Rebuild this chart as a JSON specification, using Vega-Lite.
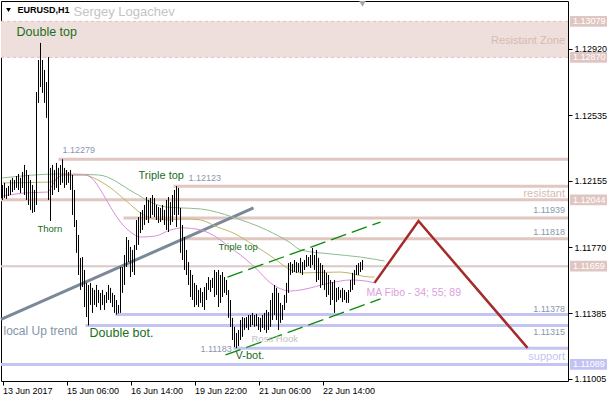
{
"$schema":"https://vega.github.io/schema/vega-lite/v6.json",
"width":567,"height":380,
"autosize":{"type":"none"},
"padding":{"left":1,"top":1,"right":42,"bottom":19},
"background":"white",
"config":{"view":{"stroke":"black","strokeWidth":1},"font":"Liberation Sans"},
"datasets":{
"bars":[
{"i":0,"h":1.12130,"l":1.12043},{"i":1,"h":1.12142,"l":1.12055},{"i":2,"h":1.12113,"l":1.12049},{"i":3,"h":1.12124,"l":1.12066},{"i":4,"h":1.12159,"l":1.12072},{"i":5,"h":1.12171,"l":1.12089},{"i":6,"h":1.12159,"l":1.12101},{"i":7,"h":1.12182,"l":1.12113},{"i":8,"h":1.12194,"l":1.12101},{"i":9,"h":1.12171,"l":1.12084},
{"i":10,"h":1.12205,"l":1.12113},{"i":11,"h":1.12246,"l":1.12072},{"i":12,"h":1.12217,"l":1.12043},{"i":13,"h":1.12188,"l":1.12014},{"i":14,"h":1.12159,"l":1.11985},{"i":15,"h":1.12130,"l":1.11968},{"i":16,"h":1.12101,"l":1.11973},{"i":17,"h":1.12669,"l":1.12014},{"i":18,"h":1.12855,"l":1.12606},{"i":19,"h":1.12954,"l":1.12698},
{"i":20,"h":1.12855,"l":1.12664},{"i":21,"h":1.12797,"l":1.12606},{"i":22,"h":1.12727,"l":1.12519},{"i":23,"h":1.12872,"l":1.12043},{"i":24,"h":1.12229,"l":1.11921},{"i":25,"h":1.12246,"l":1.12072},{"i":26,"h":1.12217,"l":1.12101},{"i":27,"h":1.12258,"l":1.12113},{"i":28,"h":1.12229,"l":1.12089},{"i":29,"h":1.12246,"l":1.12130},
{"i":30,"h":1.12279,"l":1.12142},{"i":31,"h":1.12229,"l":1.12113},{"i":32,"h":1.12217,"l":1.12130},{"i":33,"h":1.12205,"l":1.12142},{"i":34,"h":1.12217,"l":1.12101},{"i":35,"h":1.12188,"l":1.11956},{"i":36,"h":1.12101,"l":1.11886},{"i":37,"h":1.11927,"l":1.11736},{"i":38,"h":1.11840,"l":1.11608},{"i":39,"h":1.11707,"l":1.11521},
{"i":40,"h":1.11712,"l":1.11538},{"i":41,"h":1.11637,"l":1.11422},{"i":42,"h":1.11562,"l":1.11364},{"i":43,"h":1.11550,"l":1.11315},{"i":44,"h":1.11562,"l":1.11434},{"i":45,"h":1.11533,"l":1.11388},{"i":46,"h":1.11521,"l":1.11434},{"i":47,"h":1.11550,"l":1.11422},{"i":48,"h":1.11521,"l":1.11446},{"i":49,"h":1.11504,"l":1.11405},
{"i":50,"h":1.11521,"l":1.11434},{"i":51,"h":1.11492,"l":1.11405},{"i":52,"h":1.11509,"l":1.11446},{"i":53,"h":1.11550,"l":1.11463},{"i":54,"h":1.11533,"l":1.11446},{"i":55,"h":1.11504,"l":1.11422},{"i":56,"h":1.11492,"l":1.11388},{"i":57,"h":1.11463,"l":1.11378},{"i":58,"h":1.11434,"l":1.11385},{"i":59,"h":1.11654,"l":1.11388},
{"i":60,"h":1.11654,"l":1.11504},{"i":61,"h":1.11724,"l":1.11550},{"i":62,"h":1.11828,"l":1.11654},{"i":63,"h":1.11811,"l":1.11683},{"i":64,"h":1.11771,"l":1.11596},{"i":65,"h":1.11753,"l":1.11625},{"i":66,"h":1.11782,"l":1.11608},{"i":67,"h":1.11927,"l":1.11753},{"i":68,"h":1.11944,"l":1.11782},{"i":69,"h":1.11973,"l":1.11851},
{"i":70,"h":1.11985,"l":1.11869},{"i":71,"h":1.12014,"l":1.11898},{"i":72,"h":1.12060,"l":1.11927},{"i":73,"h":1.12043,"l":1.11910},{"i":74,"h":1.12055,"l":1.11939},{"i":75,"h":1.12072,"l":1.11956},{"i":76,"h":1.12055,"l":1.11944},{"i":77,"h":1.12014,"l":1.11927},{"i":78,"h":1.12002,"l":1.11910},{"i":79,"h":1.11997,"l":1.11915},
{"i":80,"h":1.12014,"l":1.11927},{"i":81,"h":1.11985,"l":1.11898},{"i":82,"h":1.12043,"l":1.11869},{"i":83,"h":1.12060,"l":1.11857},{"i":84,"h":1.12031,"l":1.11898},{"i":85,"h":1.12072,"l":1.11915},{"i":86,"h":1.12101,"l":1.11956},{"i":87,"h":1.12123,"l":1.11886},{"i":88,"h":1.12113,"l":1.11956},{"i":89,"h":1.11997,"l":1.11736},
{"i":90,"h":1.11898,"l":1.11695},{"i":91,"h":1.11828,"l":1.11637},{"i":92,"h":1.11753,"l":1.11608},{"i":93,"h":1.11683,"l":1.11550},{"i":94,"h":1.11637,"l":1.11480},{"i":95,"h":1.11608,"l":1.11463},{"i":96,"h":1.11562,"l":1.11422},{"i":97,"h":1.11550,"l":1.11434},{"i":98,"h":1.11521,"l":1.11422},{"i":99,"h":1.11533,"l":1.11446},
{"i":100,"h":1.11509,"l":1.11422},{"i":101,"h":1.11538,"l":1.11405},{"i":102,"h":1.11562,"l":1.11463},{"i":103,"h":1.11596,"l":1.11521},{"i":104,"h":1.11579,"l":1.11509},{"i":105,"h":1.11591,"l":1.11533},{"i":106,"h":1.11637,"l":1.11480},{"i":107,"h":1.11625,"l":1.11492},{"i":108,"h":1.11637,"l":1.11422},{"i":109,"h":1.11608,"l":1.11446},
{"i":110,"h":1.11625,"l":1.11480},{"i":111,"h":1.11596,"l":1.11504},{"i":112,"h":1.11579,"l":1.11492},{"i":113,"h":1.11521,"l":1.11359},{"i":114,"h":1.11463,"l":1.11307},{"i":115,"h":1.11359,"l":1.11231},{"i":116,"h":1.11307,"l":1.11190},{"i":117,"h":1.11272,"l":1.11183},{"i":118,"h":1.11289,"l":1.11195},{"i":119,"h":1.11347,"l":1.11231},
{"i":120,"h":1.11364,"l":1.11249},{"i":121,"h":1.11359,"l":1.11289},{"i":122,"h":1.11364,"l":1.11301},{"i":123,"h":1.11376,"l":1.11289},{"i":124,"h":1.11376,"l":1.11307},{"i":125,"h":1.11388,"l":1.11318},{"i":126,"h":1.11376,"l":1.11307},{"i":127,"h":1.11382,"l":1.11312},{"i":128,"h":1.11364,"l":1.11289},{"i":129,"h":1.11359,"l":1.11277},
{"i":130,"h":1.11376,"l":1.11301},{"i":131,"h":1.11388,"l":1.11289},{"i":132,"h":1.11405,"l":1.11272},{"i":133,"h":1.11393,"l":1.11289},{"i":134,"h":1.11463,"l":1.11307},{"i":135,"h":1.11504,"l":1.11347},{"i":136,"h":1.11550,"l":1.11376},{"i":137,"h":1.11533,"l":1.11347},{"i":138,"h":1.11504,"l":1.11289},{"i":139,"h":1.11446,"l":1.11330},
{"i":140,"h":1.11434,"l":1.11347},{"i":141,"h":1.11492,"l":1.11405},{"i":142,"h":1.11562,"l":1.11446},{"i":143,"h":1.11677,"l":1.11504},{"i":144,"h":1.11683,"l":1.11608},{"i":145,"h":1.11672,"l":1.11620},{"i":146,"h":1.11695,"l":1.11625},{"i":147,"h":1.11683,"l":1.11620},{"i":148,"h":1.11677,"l":1.11625},{"i":149,"h":1.11707,"l":1.11620},
{"i":150,"h":1.11683,"l":1.11608},{"i":151,"h":1.11695,"l":1.11637},{"i":152,"h":1.11724,"l":1.11654},{"i":153,"h":1.11712,"l":1.11660},{"i":154,"h":1.11724,"l":1.11649},{"i":155,"h":1.11765,"l":1.11666},{"i":156,"h":1.11724,"l":1.11637},{"i":157,"h":1.11753,"l":1.11567},{"i":158,"h":1.11707,"l":1.11579},{"i":159,"h":1.11677,"l":1.11533},
{"i":160,"h":1.11666,"l":1.11550},{"i":161,"h":1.11637,"l":1.11521},{"i":162,"h":1.11620,"l":1.11480},{"i":163,"h":1.11608,"l":1.11492},{"i":164,"h":1.11579,"l":1.11434},{"i":165,"h":1.11567,"l":1.11463},{"i":166,"h":1.11579,"l":1.11388},{"i":167,"h":1.11533,"l":1.11451},{"i":168,"h":1.11538,"l":1.11463},{"i":169,"h":1.11521,"l":1.11475},
{"i":170,"h":1.11533,"l":1.11451},{"i":171,"h":1.11521,"l":1.11463},{"i":172,"h":1.11509,"l":1.11446},{"i":173,"h":1.11521,"l":1.11446},{"i":174,"h":1.11579,"l":1.11509},{"i":175,"h":1.11620,"l":1.11521},{"i":176,"h":1.11637,"l":1.11550},{"i":177,"h":1.11666,"l":1.11608},{"i":178,"h":1.11677,"l":1.11608},{"i":179,"h":1.11683,"l":1.11625},
{"i":180,"h":1.11695,"l":1.11637}
],
"ma":[
{"ma":"89","i":0,"p":1.12171},{"ma":"89","i":29,"p":1.12194},{"ma":"89","i":48,"p":1.12188},{"ma":"89","i":66,"p":1.12084},{"ma":"89","i":74,"p":1.12031},{"ma":"89","i":82,"p":1.12002},{"ma":"89","i":89,"p":1.11997},{"ma":"89","i":99,"p":1.11991},{"ma":"89","i":107,"p":1.11973},{"ma":"89","i":115,"p":1.11944},{"ma":"89","i":132,"p":1.11869},{"ma":"89","i":144,"p":1.11794},{"ma":"89","i":149,"p":1.11753},{"ma":"89","i":164,"p":1.11730},{"ma":"89","i":179,"p":1.11712},{"ma":"89","i":191,"p":1.11689},
{"ma":"55","i":0,"p":1.12142},{"ma":"55","i":24,"p":1.12147},{"ma":"55","i":30.5,"p":1.12188},{"ma":"55","i":40.5,"p":1.12188},{"ma":"55","i":45.5,"p":1.12171},{"ma":"55","i":54,"p":1.12113},{"ma":"55","i":62.5,"p":1.12031},{"ma":"55","i":69,"p":1.11968},{"ma":"55","i":75.5,"p":1.11933},{"ma":"55","i":82.5,"p":1.11927},{"ma":"55","i":92.5,"p":1.11933},{"ma":"55","i":99,"p":1.11927},{"ma":"55","i":107.5,"p":1.11886},{"ma":"55","i":115.5,"p":1.11851},{"ma":"55","i":125.5,"p":1.11782},{"ma":"55","i":135.5,"p":1.11707},{"ma":"55","i":144,"p":1.11637},{"ma":"55","i":149,"p":1.11620},{"ma":"55","i":169,"p":1.11625},{"ma":"55","i":184,"p":1.11596},{"ma":"55","i":186,"p":1.11596},
{"ma":"34","i":0,"p":1.12066},{"ma":"34","i":11.5,"p":1.12084},{"ma":"34","i":22.5,"p":1.12089},{"ma":"34","i":25,"p":1.12130},{"ma":"34","i":28,"p":1.12177},{"ma":"34","i":31.5,"p":1.12188},{"ma":"34","i":41.5,"p":1.12188},{"ma":"34","i":45.5,"p":1.12159},{"ma":"34","i":49,"p":1.12101},{"ma":"34","i":54,"p":1.12002},{"ma":"34","i":59,"p":1.11915},{"ma":"34","i":64,"p":1.11857},{"ma":"34","i":69,"p":1.11828},{"ma":"34","i":76.5,"p":1.11834},{"ma":"34","i":84,"p":1.11869},{"ma":"34","i":90,"p":1.11881},{"ma":"34","i":99,"p":1.11869},{"ma":"34","i":107.5,"p":1.11823},{"ma":"34","i":114,"p":1.11765},{"ma":"34","i":119,"p":1.11724},{"ma":"34","i":126.5,"p":1.11649},{"ma":"34","i":134,"p":1.11562},{"ma":"34","i":144,"p":1.11515},{"ma":"34","i":149,"p":1.11521},{"ma":"34","i":164,"p":1.11562},{"ma":"34","i":174,"p":1.11579},{"ma":"34","i":181.5,"p":1.11573},{"ma":"34","i":186,"p":1.11562}
],
"hlines":[
{"kind":"zone","p":1.13079,"i":-0.75,"i2":282.75},
{"kind":"zone","p":1.12870,"i":-0.75,"i2":282.75},
{"kind":"res","p":1.12279,"i":28,"i2":282.75},
{"kind":"res","p":1.12123,"i":85.5,"i2":282.75},
{"kind":"res","p":1.12044,"i":-0.75,"i2":282.75},
{"kind":"res","p":1.11939,"i":60.5,"i2":282.75},
{"kind":"res","p":1.11818,"i":90.5,"i2":282.75},
{"kind":"lvl","p":1.11659,"i":-0.75,"i2":282.75},
{"kind":"sup","p":1.11378,"i":56.5,"i2":282.75},
{"kind":"sup","p":1.11315,"i":41.5,"i2":282.75},
{"kind":"sup","p":1.11183,"i":115.5,"i2":282.75},
{"kind":"sup","p":1.11089,"i":-0.75,"i2":282.75}
],
"zone":[{"i":-0.75,"i2":282.75,"p":1.12870,"p2":1.13079}],
"trends":[
{"name":"up","i":-0.75,"p":1.11350},{"name":"up","i":125.5,"p":1.11997},
{"name":"chU","i":112.5,"p":1.11596},{"name":"chU","i":189,"p":1.11915},
{"name":"chL","i":111.5,"p":1.11144},{"name":"chL","i":189,"p":1.11469},
{"name":"proj","i":186,"p":1.11562},{"name":"proj","i":208,"p":1.11921},{"name":"proj","i":262.5,"p":1.11185}
],
"texts":[
{"t":"Sergey Logachev","i":35.5,"p":1.13133,"s":"author"},
{"t":"Double top","i":7,"p":1.13017,"s":"pat12"},
{"t":"Resistant Zone","i":281.25,"p":1.12965,"s":"zone"},
{"t":"1.12279","i":30,"p":1.12333,"s":"numL"},
{"t":"Triple top","i":68,"p":1.12182,"s":"pat11"},
{"t":"1.12123","i":93,"p":1.12171,"s":"numL"},
{"t":"Thorn","i":17.5,"p":1.11875,"s":"pat9"},
{"t":"Triple top","i":108,"p":1.11771,"s":"pat9"},
{"t":"resistant","i":281.25,"p":1.12078,"s":"zone"},
{"t":"1.11939","i":281.25,"p":1.11985,"s":"numR"},
{"t":"1.11818","i":281.25,"p":1.11857,"s":"numR"},
{"t":"MA Fibo - 34; 55; 89","i":182,"p":1.11504,"s":"ma"},
{"t":"1.11378","i":281.25,"p":1.11411,"s":"numR"},
{"t":"local Up trend","i":0.5,"p":1.11283,"s":"trend"},
{"t":"Double bot.","i":43.5,"p":1.11272,"s":"pat12"},
{"t":"1.11315","i":281.25,"p":1.11277,"s":"numR"},
{"t":"Ross Hook","i":124.5,"p":1.11237,"s":"ross"},
{"t":"1.11183","i":99,"p":1.11179,"s":"numL"},
{"t":"V-bot.","i":116.5,"p":1.11138,"s":"pat11"},
{"t":"support","i":281.25,"p":1.11132,"s":"sup"},
{"t":"EURUSD,H1","i":7.5,"p":1.13145,"s":"sym"}
],
"tags":[
{"t":"1.13079","p":1.13079,"kind":"res"},
{"t":"1.12870","p":1.12870,"kind":"res"},
{"t":"1.12044","p":1.12044,"kind":"res"},
{"t":"1.11659","p":1.11659,"kind":"res"},
{"t":"1.11089","p":1.11089,"kind":"sup"}
],
"marks":[
{"name":"menu","i":3,"p":1.13145},
{"name":"shift","i":180,"p":1.13180}
]
},
"resolve":{"scale":{"color":"independent"}},
"layer":[
{"data":{"name":"zone"},"mark":{"type":"rect","fill":"#EEDFDC"},
 "encoding":{
  "x":{"field":"i","type":"quantitative","scale":{"domain":[-0.75,282.75],"nice":false,"zero":false},
   "axis":{"orient":"bottom","values":[0,32,64,96,128,160],"title":null,"grid":false,"domain":false,"labelExpr":"['13 Jun 2017','15 Jun 06:00','16 Jun 14:00','19 Jun 22:00','21 Jun 06:00','22 Jun 14:00'][round(datum.value/32)]","labelAlign":"left","labelFlush":false,"labelOverlap":false,"labelBound":false,"labelFont":"Liberation Sans","labelFontSize":9,"labelColor":"black","tickColor":"black","tickSize":4,"labelPadding":1,"labelBaseline":"top"}},
  "x2":{"field":"i2"},
  "y":{"field":"p","type":"quantitative","scale":{"domain":[1.10993,1.13197],"nice":false,"zero":false},
   "axis":{"orient":"right","values":[1.11005,1.11195,1.11385,1.1158,1.1177,1.1196,1.12155,1.12345,1.12535,1.1273,1.1292,1.1311],"format":".5f","title":null,"grid":false,"domain":false,"labelFont":"Liberation Sans","labelFontSize":9,"labelColor":"black","tickColor":"black","tickSize":4,"labelPadding":2,"labelBaseline":"middle"}},
  "y2":{"field":"p2"}}},
{"data":{"name":"hlines"},"transform":[{"filter":"datum.kind==='zone'"}],"mark":{"type":"rule","stroke":"#E6BFBF","strokeWidth":1,"strokeDash":[3,3]},
 "encoding":{"x":{"field":"i","type":"quantitative"},"x2":{"field":"i2"},"y":{"field":"p","type":"quantitative"}}},
{"data":{"name":"hlines"},"transform":[{"filter":"datum.kind==='res'"}],"mark":{"type":"rule","stroke":"#E0C7C1","strokeWidth":3},
 "encoding":{"x":{"field":"i","type":"quantitative"},"x2":{"field":"i2"},"y":{"field":"p","type":"quantitative"}}},
{"data":{"name":"hlines"},"transform":[{"filter":"datum.kind==='lvl'"}],"mark":{"type":"rule","stroke":"#D9CACA","strokeWidth":2},
 "encoding":{"x":{"field":"i","type":"quantitative"},"x2":{"field":"i2"},"y":{"field":"p","type":"quantitative"}}},
{"data":{"name":"hlines"},"transform":[{"filter":"datum.kind==='sup'"}],"mark":{"type":"rule","stroke":"#C4C4F2","strokeWidth":3},
 "encoding":{"x":{"field":"i","type":"quantitative"},"x2":{"field":"i2"},"y":{"field":"p","type":"quantitative"}}},
{"data":{"name":"trends"},"transform":[{"filter":"datum.name==='up'"}],"mark":{"type":"line","stroke":"#7A8899","strokeWidth":3},
 "encoding":{"x":{"field":"i","type":"quantitative"},"y":{"field":"p","type":"quantitative"}}},
{"data":{"name":"ma"},"mark":{"type":"line","strokeWidth":1,"interpolate":"monotone"},
 "encoding":{"x":{"field":"i","type":"quantitative"},"y":{"field":"p","type":"quantitative"},
  "color":{"field":"ma","type":"nominal","scale":{"domain":["34","55","89"],"range":["#DA8FDA","#BDB76B","#8FBC8F"]},"legend":null}}},
{"data":{"name":"bars"},"mark":{"type":"rule","stroke":"black","strokeWidth":1},
 "encoding":{"x":{"field":"i","type":"quantitative"},"y":{"field":"l","type":"quantitative"},"y2":{"field":"h"}}},
{"data":{"name":"trends"},"transform":[{"filter":"datum.name==='chU' || datum.name==='chL'"}],"mark":{"type":"line","stroke":"#0A8A0A","strokeWidth":1.3,"strokeDash":[16,6]},
 "encoding":{"x":{"field":"i","type":"quantitative"},"y":{"field":"p","type":"quantitative"},"detail":{"field":"name"}}},
{"data":{"name":"trends"},"transform":[{"filter":"datum.name==='proj'"}],"mark":{"type":"line","stroke":"#A52A2A","strokeWidth":2.5},
 "encoding":{"x":{"field":"i","type":"quantitative"},"y":{"field":"p","type":"quantitative"}}},
{"data":{"name":"texts"},"transform":[{"filter":"datum.s==='author'"}],"mark":{"type":"text","align":"left","baseline":"middle","fontSize":13,"color":"#C4C4C4"},
 "encoding":{"x":{"field":"i","type":"quantitative"},"y":{"field":"p","type":"quantitative"},"text":{"field":"t"}}},
{"data":{"name":"texts"},"transform":[{"filter":"datum.s==='sym'"}],"mark":{"type":"text","align":"left","baseline":"middle","fontSize":9,"fontWeight":"bold","color":"black"},
 "encoding":{"x":{"field":"i","type":"quantitative"},"y":{"field":"p","type":"quantitative"},"text":{"field":"t"}}},
{"data":{"name":"texts"},"transform":[{"filter":"datum.s==='pat12'"}],"mark":{"type":"text","align":"left","baseline":"middle","fontSize":12.5,"color":"#1A6E1A"},
 "encoding":{"x":{"field":"i","type":"quantitative"},"y":{"field":"p","type":"quantitative"},"text":{"field":"t"}}},
{"data":{"name":"texts"},"transform":[{"filter":"datum.s==='pat11'"}],"mark":{"type":"text","align":"left","baseline":"middle","fontSize":11,"color":"#1A6E1A"},
 "encoding":{"x":{"field":"i","type":"quantitative"},"y":{"field":"p","type":"quantitative"},"text":{"field":"t"}}},
{"data":{"name":"texts"},"transform":[{"filter":"datum.s==='pat9'"}],"mark":{"type":"text","align":"left","baseline":"middle","fontSize":9.5,"color":"#1A6E1A"},
 "encoding":{"x":{"field":"i","type":"quantitative"},"y":{"field":"p","type":"quantitative"},"text":{"field":"t"}}},
{"data":{"name":"texts"},"transform":[{"filter":"datum.s==='numL'"}],"mark":{"type":"text","align":"left","baseline":"middle","fontSize":9,"color":"#8A98AE"},
 "encoding":{"x":{"field":"i","type":"quantitative"},"y":{"field":"p","type":"quantitative"},"text":{"field":"t"}}},
{"data":{"name":"texts"},"transform":[{"filter":"datum.s==='numR'"}],"mark":{"type":"text","align":"right","baseline":"middle","fontSize":9,"color":"#8A98AE"},
 "encoding":{"x":{"field":"i","type":"quantitative"},"y":{"field":"p","type":"quantitative"},"text":{"field":"t"}}},
{"data":{"name":"texts"},"transform":[{"filter":"datum.s==='zone'"}],"mark":{"type":"text","align":"right","baseline":"middle","fontSize":11,"color":"#D6BAB2"},
 "encoding":{"x":{"field":"i","type":"quantitative"},"y":{"field":"p","type":"quantitative"},"text":{"field":"t"}}},
{"data":{"name":"texts"},"transform":[{"filter":"datum.s==='sup'"}],"mark":{"type":"text","align":"right","baseline":"middle","fontSize":11,"color":"#C5C5F0"},
 "encoding":{"x":{"field":"i","type":"quantitative"},"y":{"field":"p","type":"quantitative"},"text":{"field":"t"}}},
{"data":{"name":"texts"},"transform":[{"filter":"datum.s==='ma'"}],"mark":{"type":"text","align":"left","baseline":"middle","fontSize":10.5,"color":"#DDA0DD"},
 "encoding":{"x":{"field":"i","type":"quantitative"},"y":{"field":"p","type":"quantitative"},"text":{"field":"t"}}},
{"data":{"name":"texts"},"transform":[{"filter":"datum.s==='trend'"}],"mark":{"type":"text","align":"left","baseline":"middle","fontSize":12,"color":"#8494A8"},
 "encoding":{"x":{"field":"i","type":"quantitative"},"y":{"field":"p","type":"quantitative"},"text":{"field":"t"}}},
{"data":{"name":"texts"},"transform":[{"filter":"datum.s==='ross'"}],"mark":{"type":"text","align":"left","baseline":"middle","fontSize":9.5,"color":"#C2C2C2"},
 "encoding":{"x":{"field":"i","type":"quantitative"},"y":{"field":"p","type":"quantitative"},"text":{"field":"t"}}},
{"data":{"name":"marks"},"transform":[{"filter":"datum.name==='menu'"}],"mark":{"type":"point","shape":"triangle-down","filled":true,"color":"black","size":22,"opacity":1},
 "encoding":{"x":{"field":"i","type":"quantitative"},"y":{"field":"p","type":"quantitative"}}},
{"data":{"name":"marks"},"transform":[{"filter":"datum.name==='shift'"}],"mark":{"type":"point","shape":"triangle-down","filled":true,"color":"#A9A9A9","size":45,"opacity":1},
 "encoding":{"x":{"field":"i","type":"quantitative"},"y":{"field":"p","type":"quantitative"}}},
{"data":{"name":"tags"},"mark":{"type":"point","shape":"M-1,-0.29L1,-0.29L1,0.29L-1,0.29Z","filled":true,"size":1369,"opacity":1,"strokeWidth":0},
 "encoding":{"x":{"datum":293,"type":"quantitative"},"y":{"field":"p","type":"quantitative"},
  "color":{"field":"kind","type":"nominal","scale":{"domain":["res","sup"],"range":["#E0C6C2","#C2C2F5"]},"legend":null}}},
{"data":{"name":"tags"},"mark":{"type":"text","align":"left","baseline":"middle","fontSize":9,"color":"white"},
 "encoding":{"x":{"datum":285.25,"type":"quantitative"},"y":{"field":"p","type":"quantitative"},"text":{"field":"t"}}}
]
}
